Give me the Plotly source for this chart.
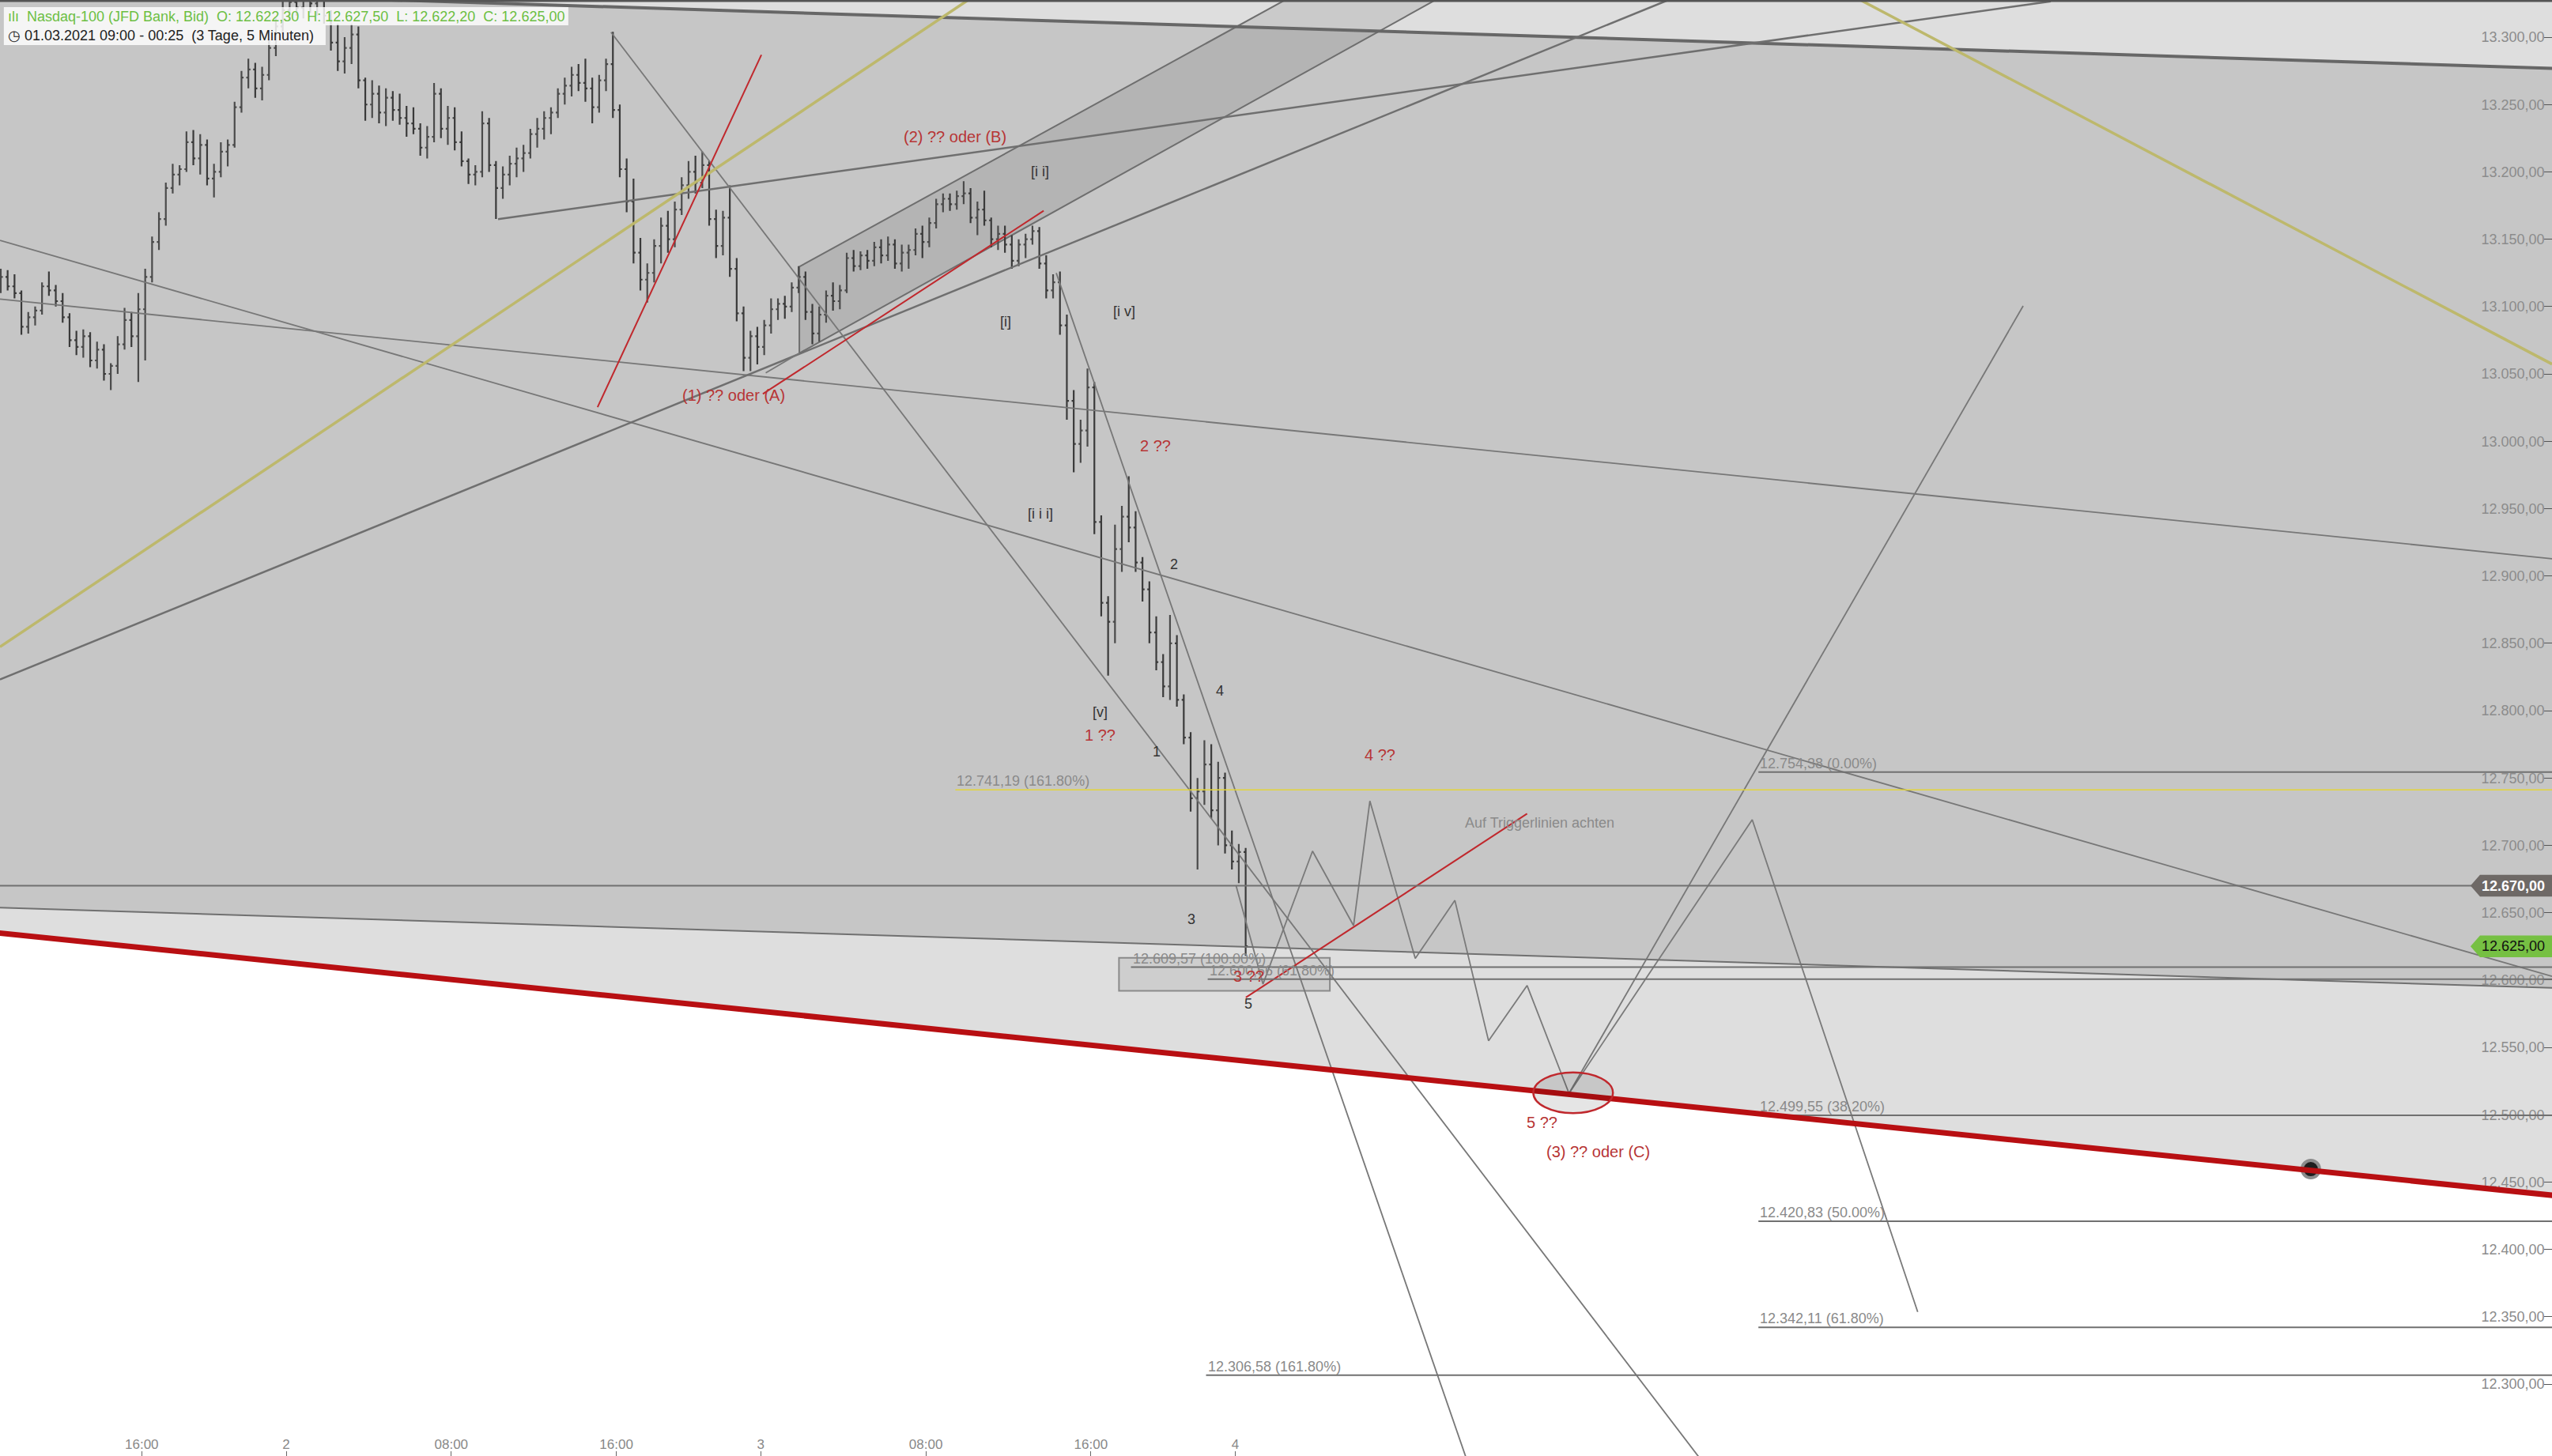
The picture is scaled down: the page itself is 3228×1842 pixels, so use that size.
import plotly.graph_objects as go

# 20-minute bars, x = trading hours since 01.03.2021 09:00 (night break removed)
bar_open = [13118, 13122, 13115, 13110, 13085, 13092, 13097, 13115, 13112, 13104,
            13092, 13075, 13070, 13078, 13060, 13068, 13050, 13056, 13072, 13090,
            13078, 13098, 13122, 13148, 13165, 13188, 13198, 13202, 13222, 13210,
            13220, 13195, 13200, 13215, 13220, 13248, 13270, 13276, 13262, 13272,
            13292, 13308, 13320, 13326, 13322, 13330, 13325, 13332, 13316, 13296,
            13282, 13292, 13302, 13268, 13250, 13258, 13244, 13255, 13246, 13240,
            13236, 13232, 13218, 13226, 13258, 13232, 13240, 13222, 13208, 13198,
            13200, 13236, 13205, 13188, 13198, 13206, 13210, 13214, 13228, 13232,
            13240, 13244, 13258, 13264, 13272, 13266, 13262, 13248, 13268, 13280,
            13246, 13202, 13178, 13140, 13120, 13125, 13145, 13160, 13150, 13172,
            13190, 13200, 13192, 13205, 13165, 13145, 13166, 13128, 13095, 13062,
            13078, 13070, 13086, 13098, 13102, 13100, 13114, 13122, 13096, 13080,
            13094, 13108, 13104, 13112, 13136, 13130, 13138, 13134, 13144, 13138,
            13146, 13132, 13140, 13142, 13154, 13148, 13162, 13176, 13180, 13176,
            13182, 13184, 13166, 13172, 13164, 13150, 13154, 13146, 13134, 13146,
            13150, 13156, 13132, 13112, 13118, 13086, 13030, 12998, 13008, 13040,
            12940, 12880, 12866, 12920, 12944, 12936, 12910, 12890, 12858, 12836,
            12818, 12850, 12808, 12780, 12735, 12740, 12760, 12726, 12750, 12700,
            12688, 12695]
bar_high = [13128, 13127, 13124, 13112, 13096, 13100, 13118, 13126, 13116, 13110,
            13095, 13082, 13083, 13081, 13074, 13072, 13058, 13078, 13099, 13096,
            13110, 13128, 13152, 13170, 13192, 13206, 13205, 13230, 13231, 13228,
            13224, 13206, 13222, 13224, 13252, 13275, 13284, 13281, 13278, 13298,
            13314, 13328, 13336, 13338, 13334, 13340, 13338, 13336, 13320, 13310,
            13300, 13310, 13308, 13270, 13268, 13264, 13262, 13260, 13258, 13249,
            13248, 13236, 13234, 13266, 13262, 13249, 13248, 13230, 13210, 13205,
            13245, 13240, 13208, 13204, 13212, 13218, 13220, 13232, 13240, 13245,
            13248, 13262, 13270, 13278, 13280, 13284, 13270, 13272, 13284, 13304,
            13250, 13210, 13195, 13151, 13132, 13150, 13166, 13171, 13178, 13196,
            13208, 13212, 13215, 13208, 13172, 13171, 13190, 13136, 13100, 13082,
            13085, 13090, 13106, 13106, 13108, 13118, 13130, 13126, 13102, 13100,
            13112, 13118, 13116, 13140, 13142, 13141, 13142, 13148, 13150, 13152,
            13150, 13146, 13146, 13158, 13160, 13166, 13180, 13184, 13184, 13186,
            13193, 13188, 13178, 13186, 13166, 13160, 13160, 13153, 13150, 13154,
            13160, 13159, 13138, 13124, 13126, 13094, 13038, 13016, 13054, 13044,
            12945, 12885, 12938, 12952, 12974, 12948, 12914, 12896, 12870, 12842,
            12871, 12856, 12812, 12784, 12750, 12778, 12775, 12762, 12754, 12711,
            12701, 12698]
bar_low = [13110, 13112, 13106, 13079, 13080, 13086, 13094, 13108, 13100, 13088,
           13070, 13064, 13062, 13055, 13054, 13045, 13038, 13050, 13068, 13070,
           13044, 13060, 13118, 13142, 13160, 13184, 13190, 13200, 13205, 13198,
           13190, 13181, 13196, 13204, 13218, 13244, 13262, 13255, 13253, 13268,
           13286, 13302, 13312, 13316, 13314, 13318, 13316, 13310, 13290, 13275,
           13273, 13280, 13262, 13238, 13240, 13236, 13234, 13238, 13235, 13226,
           13228, 13212, 13210, 13222, 13225, 13220, 13216, 13204, 13191, 13190,
           13196, 13200, 13165, 13180, 13190, 13196, 13200, 13210, 13218, 13224,
           13228, 13240, 13250, 13256, 13260, 13252, 13236, 13244, 13260, 13240,
           13196, 13170, 13132, 13112, 13103, 13118, 13132, 13140, 13144, 13168,
           13180, 13184, 13188, 13160, 13136, 13138, 13122, 13089, 13052, 13052,
           13057, 13064, 13080, 13090, 13091, 13096, 13110, 13090, 13072, 13074,
           13088, 13097, 13098, 13110, 13126, 13127, 13128, 13130, 13132, 13134,
           13128, 13126, 13128, 13138, 13136, 13144, 13158, 13170, 13171, 13172,
           13176, 13162, 13153, 13160, 13144, 13142, 13140, 13128, 13130, 13136,
           13146, 13128, 13106, 13106, 13079, 13016, 12977, 12984, 12996, 12931,
           12870, 12826, 12850, 12903, 12925, 12903, 12881, 12850, 12830, 12810,
           12808, 12803, 12775, 12725, 12682, 12730, 12720, 12700, 12694, 12682,
           12672, 12618]
bar_close = [13122, 13115, 13110, 13085, 13092, 13097, 13115, 13112, 13104, 13092,
             13075, 13070, 13078, 13060, 13068, 13050, 13056, 13072, 13090, 13078,
             13098, 13122, 13148, 13165, 13188, 13198, 13202, 13222, 13210, 13220,
             13195, 13200, 13215, 13220, 13248, 13270, 13276, 13262, 13272, 13292,
             13308, 13320, 13326, 13322, 13330, 13325, 13332, 13316, 13296, 13282,
             13292, 13302, 13268, 13250, 13258, 13244, 13255, 13246, 13240, 13236,
             13232, 13218, 13226, 13258, 13232, 13240, 13222, 13208, 13198, 13200,
             13236, 13205, 13188, 13198, 13206, 13210, 13214, 13228, 13232, 13240,
             13244, 13258, 13264, 13272, 13266, 13262, 13248, 13268, 13280, 13246,
             13202, 13178, 13140, 13120, 13125, 13145, 13160, 13150, 13172, 13190,
             13200, 13192, 13205, 13165, 13145, 13166, 13128, 13095, 13062, 13078,
             13070, 13086, 13098, 13102, 13100, 13114, 13122, 13096, 13080, 13094,
             13108, 13104, 13112, 13136, 13130, 13138, 13134, 13144, 13138, 13146,
             13132, 13140, 13142, 13154, 13148, 13162, 13176, 13180, 13176, 13182,
             13184, 13166, 13172, 13164, 13150, 13154, 13146, 13134, 13146, 13150,
             13156, 13132, 13112, 13118, 13086, 13030, 12998, 13008, 13040, 12940,
             12880, 12866, 12920, 12944, 12936, 12910, 12890, 12858, 12836, 12818,
             12850, 12808, 12780, 12735, 12740, 12760, 12726, 12750, 12700, 12688,
             12695, 12625]
bar_time = [i / 3 + 1 / 6 for i in range(len(bar_open))]

tick_pos = [7, 14, 22, 30, 37, 45, 53, 60]
tick_text = ["16:00", "2", "08:00", "16:00", "3", "08:00", "16:00", "4"]
price_ticks = list(range(12250, 13301, 50))

X_RANGE = [0.13, 123.81]
Y_RANGE = [12246.6, 13327.6]

# drawn trend lines: (hour, price) -> (hour, price)
top_line = ((21.27, 13326.6), (123.81, 13276.9))
mid_line = ((0.13, 12653.7), (123.81, 12594.1))
red_base = ((0.13, 12634.8), (123.81, 12440.2))
gray_lines = {
    "a": ((0.13, 13149.1), (123.81, 12602.7)),
    "b": ((0.13, 13105.5), (123.81, 12912.8)),
    "c": ((0.13, 12823.1), (80.98, 13327.6)),
    "e": ((24.27, 13164.9), (99.52, 13326.6)),
    "f": ((29.74, 13303.7), (82.56, 12243.9)),
    "g": ((51.32, 13124.9), (71.16, 12246.3)),
    "ext": ((37.24, 13050.8), (38.87, 13065.4)),
    "up": ((76.17, 12515.8), (98.18, 13100.5)),
}
yellow_lines = [((0.13, 12847.4), (47.05, 13327.6)),
                ((90.29, 13327.6), (123.81, 13057.3))]
red_lines = [((29.09, 13025.3), (37.03, 13286.9)),
             ((37.10, 13035.1), (50.71, 13171.1)),
             ((60.51, 12587.1), (74.14, 12723.5))]
channel = [(38.87, 13129.6), (65.29, 13351.8), (72.54, 13351.8), (38.87, 13065.4)]

# projected wave path
path_x = [60.03, 61.34, 63.74, 65.73, 66.52, 68.72, 70.64, 72.27, 74.14, 76.17, 85.05, 93.07]
path_y = [12670.3, 12597.0, 12695.7, 12640.4, 12732.9, 12616.0, 12659.1, 12554.9,
          12595.9, 12515.8, 12719.0, 12353.6]

# fibonacci / level lines
level_value = [12754.38, 12741.19, 12670.00, 12609.57, 12600.56, 12499.55, 12420.83, 12342.11, 12306.58]
level_start = [85.35, 46.43, 0.13, 54.94, 58.66, 85.35, 85.35, 85.35, 58.58]
level_text = ["12.754,38 (0.00%)", "12.741,19 (161.80%)", "", "12.609,57 (100.00%)",
              "12.600,56 (61.80%)", "12.499,55 (38.20%)", "12.420,83 (50.00%)",
              "12.342,11 (61.80%)", "12.306,58 (161.80%)"]

# wave labels
red_lbl = ["(2) ?? oder (B)", "(1) ?? oder (A)", "2 ??", "1 ??", "4 ??", "3 ??", "5 ??", "(3) ?? oder (C)"]
red_x = [46.43, 35.67, 56.13, 53.45, 67.02, 60.63, 74.87, 77.57]
red_y = [13226.1, 13034.0, 12996.5, 12781.9, 12767.0, 12602.7, 12494.2, 12472.7]
dark_lbl = ["[i i]", "[i]", "[i v]", "[i i i]", "2", "4", "[v]", "1", "3", "5"]
dark_x = [50.54, 48.85, 54.60, 50.54, 57.04, 59.24, 53.43, 56.20, 57.87, 60.63]
dark_y = [13200.5, 13089.0, 13096.5, 12946.0, 12908.7, 12814.8, 12798.8, 12769.4, 12645.0, 12582.2]

RED = "#b73535"
GRAY = "#777777"


def at(seg, x):
    (x0, y0), (x1, y1) = seg
    return y0 + (y1 - y0) * (x - x0) / (x1 - x0)


def poly(pts):
    return "M " + " L ".join(f"{x},{y}" for x, y in pts) + " Z"


fig = go.Figure()
XL, XR, YT = -5, 130, 13400
shapes = [
    dict(type="path", path=poly([(XL, YT), (XR, YT), (XR, at(top_line, XR)), (XL, at(top_line, XL))]),
         fillcolor="#dedede", line_width=0, layer="below"),
    dict(type="path", path=poly([(XL, at(top_line, XL)), (XR, at(top_line, XR)),
                                 (XR, at(mid_line, XR)), (XL, at(mid_line, XL))]),
         fillcolor="#c6c6c6", line_width=0, layer="below"),
    dict(type="path", path=poly([(XL, at(mid_line, XL)), (XR, at(mid_line, XR)),
                                 (XR, at(red_base, XR)), (XL, at(red_base, XL))]),
         fillcolor="#dedede", line_width=0, layer="below"),
    dict(type="path", path=poly(channel), fillcolor="rgba(0,0,0,0.09)",
         line=dict(color="#6e6e6e", width=2), layer="below"),
    dict(type="rect", x0=54.36, x1=64.58, y0=12592.0, y1=12616.5,
         fillcolor="rgba(0,0,0,0.07)", line=dict(color="#8a8a8a", width=2), layer="below"),
]


def seg_shape(seg, color, width):
    (x0, y0), (x1, y1) = seg
    return dict(type="line", x0=x0, y0=y0, x1=x1, y1=y1, line=dict(color=color, width=width), layer="above")


shapes.append(seg_shape(((XL, at(top_line, XL)), (XR, at(top_line, XR))), "#676767", 4))
shapes.append(seg_shape(((XL, at(mid_line, XL)), (XR, at(mid_line, XR))), "#707070", 2))
for name, seg in gray_lines.items():
    shapes.append(seg_shape(seg, "#6f6f6f" if name in ("c", "e") else GRAY, 2.5 if name in ("c", "e") else 1.8))
for seg in yellow_lines:
    shapes.append(seg_shape(seg, "#bdb86c", 3.5))
for seg in red_lines:
    shapes.append(seg_shape(seg, "#c0282d", 2))

for v, xs, txt in zip(level_value, level_start, level_text):
    col = "#e2d43a" if v == 12741.19 else "#707070"
    shapes.append(dict(type="line", x0=xs, x1=XR, y0=v, y1=v, line=dict(color=col, width=2 if col != "#e2d43a" else 1.5),
                       layer="above"))

shapes.append(seg_shape(((XL, at(red_base, XL)), (XR, at(red_base, XR))), "#b80f12", 7))
shapes.append(dict(type="circle", x0=74.44, x1=78.30, y0=12501.2, y1=12531.4,
                   fillcolor="rgba(0,0,0,0.10)", line=dict(color="#c0282d", width=2.5), layer="above"))

# price tags on the right
for v, bg in [(12670.00, "#6e6966"), (12625.00, "#76c043")]:
    shapes.append(dict(type="path", layer="above", line_width=0, fillcolor=bg,
                       path=poly([(119.86, v), (120.32, v + 8.1), (XR, v + 8.1), (XR, v - 8.1), (120.32, v - 8.1)])))

# header boxes
shapes.append(dict(type="rect", xref="paper", yref="paper", x0=0.0015, x1=0.2227, y0=0.98263, y1=0.99511,
                   fillcolor="rgba(255,255,255,0.82)", line_width=0, layer="above"))
shapes.append(dict(type="rect", xref="paper", yref="paper", x0=0.0015, x1=0.1276, y0=0.96906, y1=0.98263,
                   fillcolor="rgba(255,255,255,0.82)", line_width=0, layer="above"))
shapes.append(dict(type="line", xref="paper", yref="paper", x0=0, x1=1, y0=0.9995, y1=0.9995,
                   line=dict(color="#555555", width=3)))

fig.add_trace(go.Ohlc(
    x=bar_time, open=bar_open, high=bar_high, low=bar_low, close=bar_close,
    increasing=dict(line=dict(color="#4a4a4a", width=2.2)),
    decreasing=dict(line=dict(color="#3a3a3a", width=2.2)),
    tickwidth=0.3, hoverinfo="skip"))

fig.add_trace(go.Scatter(x=path_x, y=path_y, mode="lines", line=dict(color="#7a7a7a", width=1.8),
                         hoverinfo="skip"))
fig.add_trace(go.Scatter(x=[112.12], y=[12459.6], mode="markers",
                         marker=dict(size=22, color="#1e1e1e", line=dict(color="#8c8c8c", width=4)),
                         hoverinfo="skip"))

ann = []
for v, xs, txt in zip(level_value, level_start, level_text):
    if txt:
        ann.append(dict(x=xs, y=v, text=txt, showarrow=False, xanchor="left", yanchor="middle", yshift=11,
                        font=dict(size=18, color="#8a8a8a")))
for t, x, y in zip(red_lbl, red_x, red_y):
    ann.append(dict(x=x, y=y, text=t, showarrow=False, font=dict(size=20, color=RED)))
for t, x, y in zip(dark_lbl, dark_x, dark_y):
    ann.append(dict(x=x, y=y, text=t, showarrow=False, font=dict(size=18, color="#333333")))
ann.append(dict(x=71.04, y=12716.6, text="Auf Triggerlinien achten", showarrow=False, xanchor="left",
                font=dict(size=18, color="#8a8a8a")))
ann.append(dict(x=123.55, y=12670.0, text="<b>12.670,00</b>", showarrow=False, xanchor="right",
                font=dict(size=18, color="white")))
ann.append(dict(x=123.55, y=12625.0, text="12.625,00", showarrow=False, xanchor="right",
                font=dict(size=18, color="#111111")))
ann.append(dict(xref="paper", yref="paper", x=0.0025, y=0.98887, xanchor="left", yanchor="middle",
                text="ılı  Nasdaq-100 (JFD Bank, Bid)  O: 12.622,30  H: 12.627,50  L: 12.622,20  C: 12.625,00",
                showarrow=False, font=dict(size=18, color="#6cbf43")))
ann.append(dict(xref="paper", yref="paper", x=0.0025, y=0.97584, xanchor="left", yanchor="middle",
                text="◷ 01.03.2021 09:00 - 00:25  (3 Tage, 5 Minuten)",
                showarrow=False, font=dict(size=18, color="#222222")))

fig.update_layout(
    width=3228, height=1842, margin=dict(l=0, r=0, t=0, b=0),
    plot_bgcolor="white", paper_bgcolor="white", showlegend=False,
    separators=",.", font=dict(family="Liberation Sans, Arial, sans-serif"),
    shapes=shapes, annotations=ann,
    xaxis=dict(range=X_RANGE, tickvals=tick_pos, ticktext=tick_text, ticks="inside", ticklen=6,
               tickcolor="#666666", ticklabelposition="inside", tickfont=dict(size=17, color="#888888"),
               showgrid=False, zeroline=False, showline=False, rangeslider=dict(visible=False)),
    yaxis=dict(range=Y_RANGE, side="right", tickvals=price_ticks, tickformat=",.2f", ticks="inside",
               ticklen=10, tickcolor="#555555", ticklabelposition="inside",
               tickfont=dict(size=18, color="#8c8c8c"), showgrid=False, zeroline=False, showline=False),
)

fig.write_html("out.html", config={"displayModeBar": False},
               post_script="document.body.style.margin='0';")
